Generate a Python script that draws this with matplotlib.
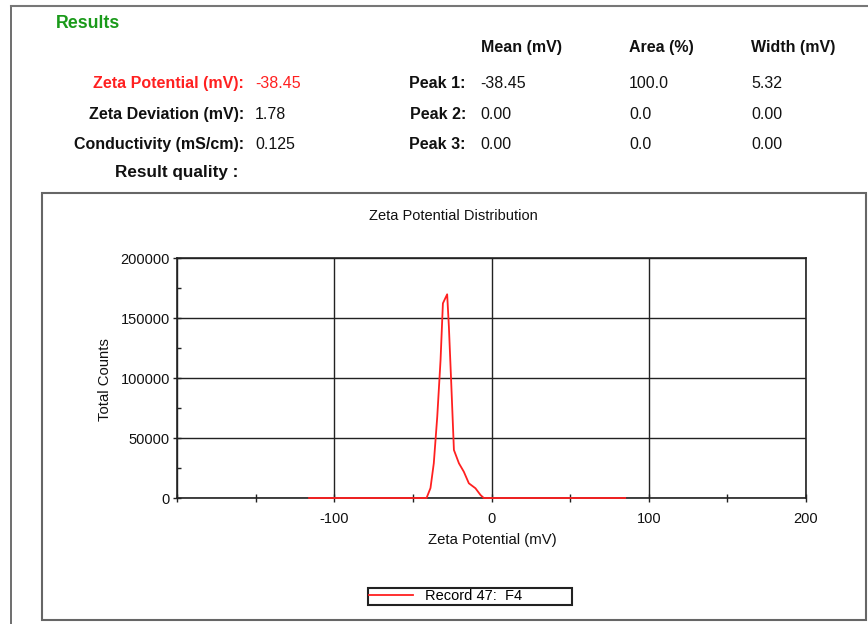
import numpy as np
import matplotlib
matplotlib.use('Agg')
import matplotlib.pyplot as plt
from matplotlib.patches import Rectangle
from matplotlib.lines import Line2D

plt.rcParams['font.family'] = ['Liberation Sans', 'DejaVu Sans']

# distribution
zeta_mv = [-116, -41.3, -38.8, -36.7, -34.5, -32.4, -30.9, -29.7, -28.2, -27.1,
           -25.6, -23.9, -20.7, -17.6, -14.4, -10.2, -7.0, -4.9, 85]
counts = [0, 0, 8300, 28900, 67750, 115000, 162250, 165600, 169750, 142750,
          95600, 40000, 28900, 21900, 12250, 8100, 2500, 0, 0]

summary_labels = ['Zeta Potential (mV):', 'Zeta Deviation (mV):', 'Conductivity (mS/cm):']
summary_values = ['-38.45', '1.78', '0.125']
peak_labels = ['Peak 1:', 'Peak 2:', 'Peak 3:']
peak_headers = ['Mean (mV)', 'Area (%)', 'Width (mV)']
peak_mean = ['-38.45', '0.00', '0.00']
peak_area = ['100.0', '0.0', '0.0']
peak_width = ['5.32', '0.00', '0.00']
legend_label = 'Record 47:  F4'

W, H = 868, 624
fig = plt.figure(figsize=(W / 100, H / 100), dpi=100)


def fx(x):
    return x / W


def fy(y):
    return 1 - y / H


def txt(x, y, s, **kw):
    kw.setdefault('va', 'baseline')
    kw.setdefault('fontsize', 11.5)
    fig.text(fx(x), fy(y), s, **kw)


# page frame lines
fig.add_artist(Line2D([fx(11), fx(11)], [fy(6), 0], color='#555555', lw=1.2))
fig.add_artist(Line2D([fx(11), 1], [fy(6), fy(6)], color='#777777', lw=1.5))

txt(56, 28, 'Results', color='#1a9a1a', fontweight='bold', fontsize=12.8)

header_x = [481, 629, 751]
for hx, h in zip(header_x, peak_headers):
    txt(hx, 52, h, fontweight='bold', color='#111111')

row_y = [88, 119, 149]
for i, ry in enumerate(row_y):
    col = '#ff2020' if i == 0 else '#111111'
    txt(244, ry, summary_labels[i], ha='right', fontweight='bold', color=col)
    txt(255, ry, summary_values[i], color=col)
    txt(466, ry, peak_labels[i], ha='right', fontweight='bold', color='#111111')
    txt(480, ry, peak_mean[i], color='#111111')
    txt(629, ry, peak_area[i], color='#111111')
    txt(751, ry, peak_width[i], color='#111111')

txt(115, 177, 'Result quality :', fontweight='bold', fontsize=12.3, color='#111111')

# chart box
fig.add_artist(Rectangle((fx(42), fy(620)), fx(866 - 42), (620 - 193) / H,
                         transform=fig.transFigure, fill=False,
                         edgecolor='#666666', lw=1.5))

ax = fig.add_axes([fx(177), fy(498), fx(806 - 177), (498 - 258) / H])
ax.plot(zeta_mv, counts, color='#ff2020', lw=1.3, zorder=5, clip_on=False,
        label=legend_label)
ax.set_xlim(-200, 200)
ax.set_ylim(0, 200000)
ax.set_xticks([-200, -100, 0, 100, 200])
ax.set_xticklabels(['', '-100', '0', '100', '200'])
ax.set_xticks([-150, -50, 50, 150], minor=True)
ax.set_yticks([0, 50000, 100000, 150000, 200000])
ax.set_yticks(np.arange(25000, 200000, 50000), minor=True)
ax.grid(True, which='major', color='#222222', lw=1.0)
for sp in ax.spines.values():
    sp.set_color('#222222')
    sp.set_linewidth(1.2)
ax.tick_params(which='both', direction='inout', length=6, width=1, color='#222222',
               labelsize=10.5, labelcolor='#111111', pad=2)
ax.tick_params(axis='x', pad=7)
ax.tick_params(axis='y', which='minor', direction='in', length=3)

txt(453, 216, 'Zeta Potential Distribution', ha='center', va='center',
    fontsize=10.5, color='#111111')
txt(492, 540, 'Zeta Potential (mV)', ha='center', va='center',
    fontsize=10.7, color='#111111')
txt(105, 380, 'Total Counts', ha='center', va='center', rotation=90,
    fontsize=10.7, color='#111111')

leg = ax.legend(loc='center', bbox_to_anchor=(fx(368), fy(607), fx(572 - 368), 21 / H),
                bbox_transform=fig.transFigure, mode='expand', fancybox=False,
                framealpha=1, edgecolor='#222222', fontsize=10.5, handlelength=3.0,
                borderpad=0.1, borderaxespad=0, handletextpad=0.8)
leg.get_frame().set_linewidth(1.5)

fig.savefig('out.png', dpi=100)
